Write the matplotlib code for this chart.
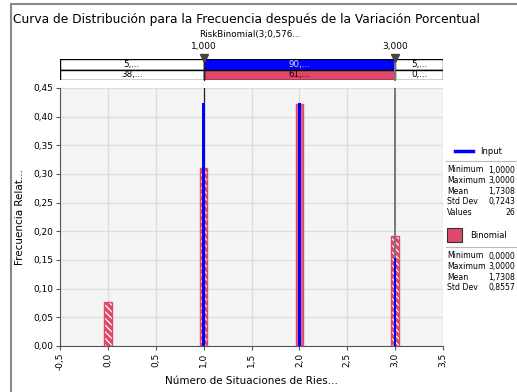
import matplotlib.pyplot as plt
from matplotlib.patches import Rectangle

# data
categories = [0, 1, 2, 3]
binomial_freq = [0.076, 0.311, 0.422, 0.191]
input_values = [1, 2, 3]
input_freq = [0.423, 0.423, 0.154]

x_ticks = [-0.5, 0.0, 0.5, 1.0, 1.5, 2.0, 2.5, 3.0, 3.5]
y_ticks = [0.00, 0.05, 0.10, 0.15, 0.20, 0.25, 0.30, 0.35, 0.40, 0.45]

band_edges = [-0.5, 1.0, 3.0, 3.5]
band_input = ["5,...", "90,...", "5,..."]
band_binom = ["38,...", "61,...", "0,..."]
marker_vals = [1.0, 3.0]
marker_labels = ["1,000", "3,000"]

input_stats = [("Minimum", "1,0000"), ("Maximum", "3,0000"), ("Mean", "1,7308"),
               ("Std Dev", "0,7243"), ("Values", "26")]
binom_stats = [("Minimum", "0,0000"), ("Maximum", "3,0000"), ("Mean", "1,7308"),
               ("Std Dev", "0,8557")]

RED = "#E0486A"
BLUE = "#0000FF"
W, H = 517, 392


def px(x0, y0, x1, y1):
    # pixel box (top-left origin) -> figure rect
    return [x0 / W, (H - y1) / H, (x1 - x0) / W, (y1 - y0) / H]


plt.rcParams['font.family'] = ['DejaVu Sans']
plt.rcParams['hatch.linewidth'] = 0.9
fig = plt.figure(figsize=(W / 100, H / 100), dpi=100)

# outer frame
fig.patches.append(Rectangle((11 / W, -0.02), 1.1, (H - 4) / H + 0.02,
                             transform=fig.transFigure, fill=False,
                             edgecolor="#8a8a8a", linewidth=1.5))

fig.text(13 / W, 1 - 20 / H, "Curva de Distribución para la Frecuencia después de la Variación Porcentual",
         fontsize=8.85, va="center", ha="left")
fig.text(250 / W, 1 - 35 / H, "RiskBinomial(3;0,576...", fontsize=6.3, ha="center", va="center")

# main plot
ax = fig.add_axes(px(60, 88, 443, 346))
ax.set_facecolor("#F4F4F4")
ax.set_xlim(-0.5, 3.5)
ax.set_ylim(0, 0.45)
ax.set_xticks(x_ticks)
ax.set_xticklabels([f"{v:.1f}".replace(".", ",") for v in x_ticks], rotation=90, fontsize=6.5)
ax.set_yticks(y_ticks)
ax.set_yticklabels([f"{v:.2f}".replace(".", ",") for v in y_ticks], fontsize=6.5)
ax.grid(True, color="#DCDCDC", linewidth=0.9)
ax.set_axisbelow(True)
for s in ["top", "right"]:
    ax.spines[s].set_visible(False)
for s in ["left", "bottom"]:
    ax.spines[s].set_color("#555555")
ax.tick_params(length=3, color="#555555", pad=2)
ax.set_xlabel("Número de Situaciones de Ries...", fontsize=7.5, labelpad=4)
ax.set_ylabel("Frecuencia Relat...", fontsize=7.5, labelpad=6)

hatched = [True, True, False, True]
for c, f, h in zip(categories, binomial_freq, hatched):
    if h:
        ax.bar(c, f, width=0.08, color=RED, edgecolor="white", linewidth=0, hatch="\\\\\\\\\\")
        ax.bar(c, f, width=0.08, fill=False, edgecolor=RED, linewidth=1)
    else:
        ax.bar(c, f, width=0.08, color="#E8607C", edgecolor=RED, linewidth=1)
ax.bar(input_values, input_freq, width=0.025, color=BLUE, linewidth=0, zorder=4)

for v, lw, col in zip(marker_vals, [0.9, 1.4], ["#222222", "#777777"]):
    ax.axvline(v, color=col, linewidth=lw, zorder=3)

# top band
band = fig.add_axes(px(60, 59, 443, 80))
band.set_xlim(-0.5, 3.5)
band.set_ylim(0, 2)
band.axis("off")
for i in range(3):
    x0, x1 = band_edges[i], band_edges[i + 1]
    mid = i == 1
    band.add_patch(Rectangle((x0, 1), x1 - x0, 1, facecolor=BLUE if mid else "white",
                             edgecolor="black", linewidth=1))
    band.add_patch(Rectangle((x0, 0), x1 - x0, 1, facecolor=RED if mid else "white",
                             edgecolor="black", linewidth=1))
    band.text((x0 + x1) / 2, 1.5, band_input[i], ha="center", va="center", fontsize=6.3,
              color="#DDDDDD" if mid else "black")
    band.text((x0 + x1) / 2, 0.5, band_binom[i], ha="center", va="center", fontsize=6.3)
for v, lab, col, lw in zip(marker_vals, marker_labels, ["#222222", "#777777"], [0.9, 1.4]):
    band.plot([v, v], [0, 2], color=col, linewidth=lw, clip_on=False)
    band.plot(v, 2.05, marker="v", markersize=6, color="#444444", clip_on=False)
    band.text(v, 3.15, lab, ha="center", va="center", fontsize=6.5)

# legend / stats on the right
fig.add_artist(plt.Line2D([455 / W, 473 / W], [1 - 151 / H] * 2, color=BLUE, linewidth=2.5))
fig.text(480 / W, 1 - 151 / H, "Input", fontsize=6, va="center")
fig.add_artist(plt.Line2D([446 / W, 517 / W], [1 - 161 / H] * 2, color="#BBBBBB", linewidth=0.8))
for i, (k, v) in enumerate(input_stats):
    y = 1 - (170 + i * 10.6) / H
    fig.text(447 / W, y, k, fontsize=5.6, va="center")
    fig.text(515 / W, y, v, fontsize=5.6, va="center", ha="right")

fig.patches.append(Rectangle((447 / W, 1 - 242 / H), 15 / W, 14 / H, transform=fig.transFigure,
                             facecolor=RED, edgecolor="#333333", linewidth=0.8))
fig.text(470 / W, 1 - 235 / H, "Binomial", fontsize=6, va="center")
fig.add_artist(plt.Line2D([446 / W, 517 / W], [1 - 247 / H] * 2, color="#BBBBBB", linewidth=0.8))
for i, (k, v) in enumerate(binom_stats):
    y = 1 - (256 + i * 10.6) / H
    fig.text(447 / W, y, k, fontsize=5.6, va="center")
    fig.text(515 / W, y, v, fontsize=5.6, va="center", ha="right")

fig.savefig("out.png", dpi=100)
